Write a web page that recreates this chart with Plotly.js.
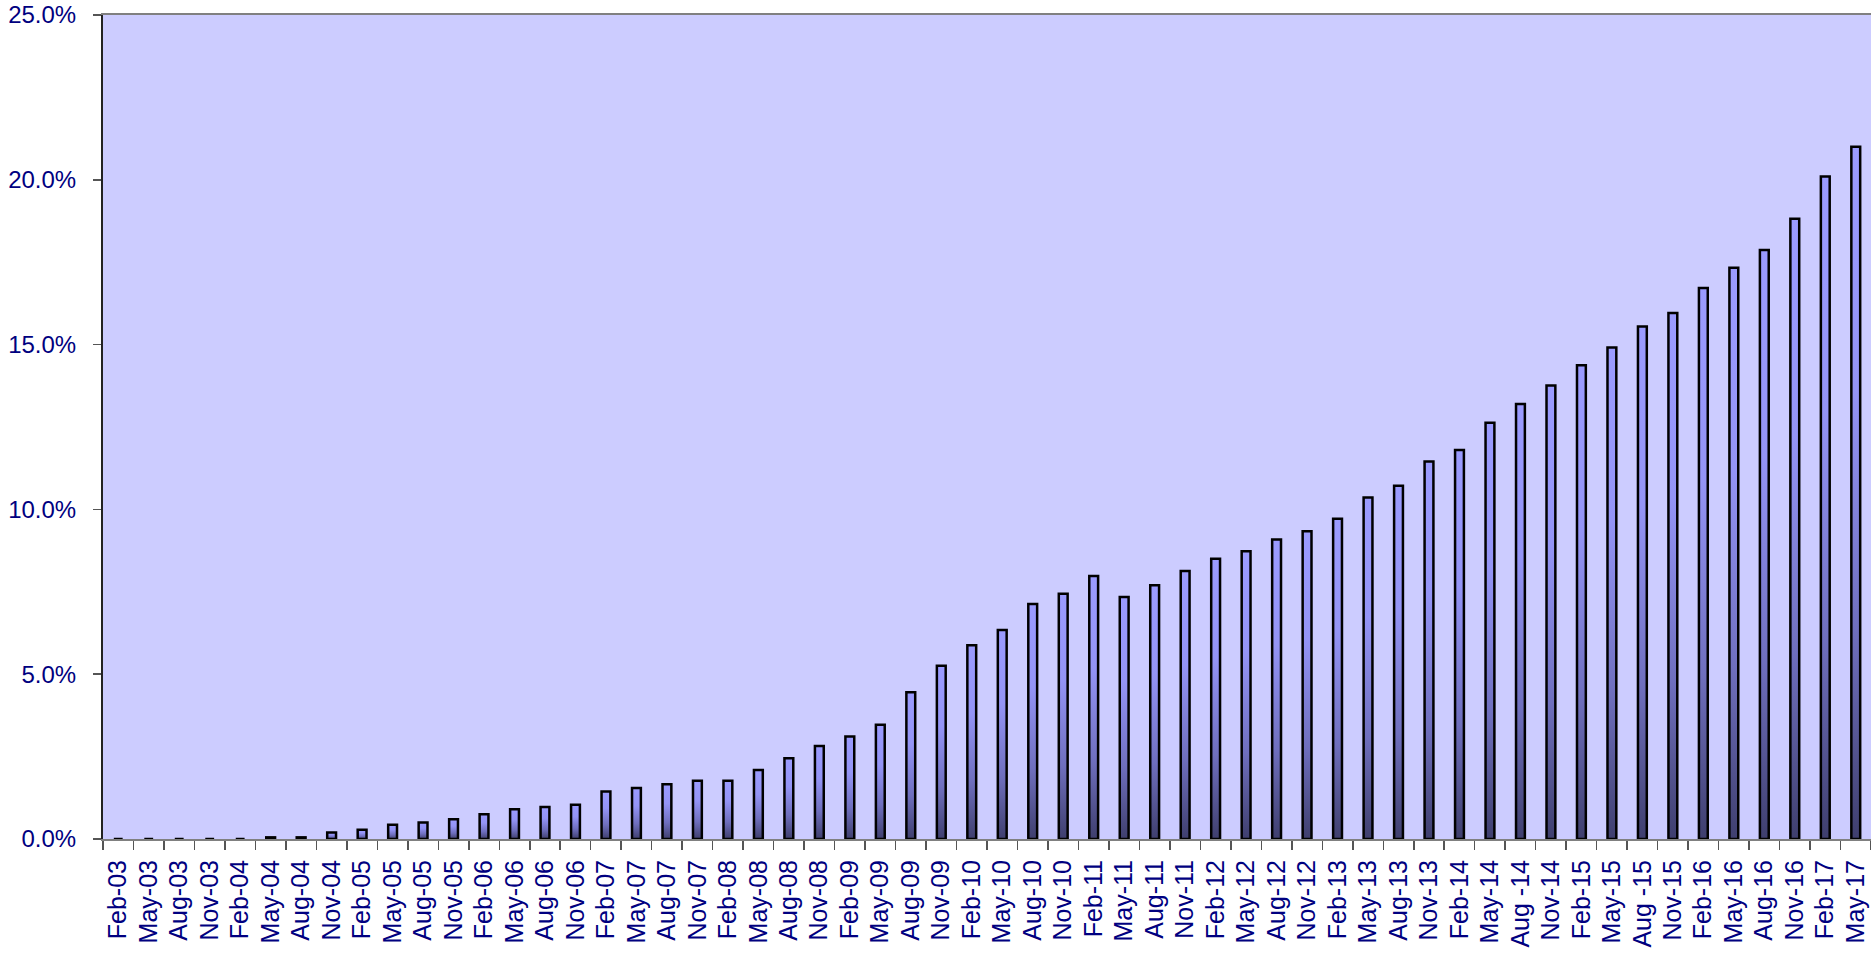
<!DOCTYPE html>
<html>
<head>
<meta charset="utf-8">
<script src="https://cdn.plot.ly/plotly-3.0.1.min.js"></script>
<style>
  html, body { margin: 0; padding: 0; background: #ffffff; }
  #chart { width: 1871px; height: 957px; }
</style>
</head>
<body>
<div id="chart"></div>
<script>
// Quarter labels (categories)
const quarters = [
  "Feb-03","May-03","Aug-03","Nov-03",
  "Feb-04","May-04","Aug-04","Nov-04",
  "Feb-05","May-05","Aug-05","Nov-05",
  "Feb-06","May-06","Aug-06","Nov-06",
  "Feb-07","May-07","Aug-07","Nov-07",
  "Feb-08","May-08","Aug-08","Nov-08",
  "Feb-09","May-09","Aug-09","Nov-09",
  "Feb-10","May-10","Aug-10","Nov-10",
  "Feb-11","May-11","Aug-11","Nov-11",
  "Feb-12","May-12","Aug-12","Nov-12",
  "Feb-13","May-13","Aug-13","Nov-13",
  "Feb-14","May-14","Aug -14","Nov-14",
  "Feb-15","May-15","Aug -15","Nov-15",
  "Feb-16","May-16","Aug-16","Nov-16",
  "Feb-17","May-17"
];

// Values in percent
const shares = [
  0, 0, 0, 0,
  0, 0.05, 0.05, 0.2,
  0.28, 0.43, 0.5, 0.6,
  0.75, 0.9, 0.97, 1.04,
  1.44, 1.55, 1.66, 1.77,
  1.77, 2.09, 2.45, 2.82,
  3.11, 3.47, 4.45, 5.26,
  5.88, 6.34, 7.13, 7.44,
  7.98, 7.34, 7.70, 8.13,
  8.50, 8.73, 9.09, 9.34,
  9.72, 10.36, 10.72, 11.45,
  11.8, 12.63, 13.2, 13.76,
  14.37, 14.91, 15.55, 15.96,
  16.72, 17.33, 17.87, 18.82,
  20.1, 21.0
];

// Y axis ticks
const yTickVals = [0, 5, 10, 15, 20, 25];
const yTickText = ["0.0%", "5.0%", "10.0%", "15.0%", "20.0%", "25.0%"];

const trace = {
  type: "bar",
  x: quarters,
  y: shares,
  marker: { color: "#9999ff", line: { color: "#000000", width: 2.5 } },
  hoverinfo: "x+y"
};

const layout = {
  width: 1871,
  height: 957,
  margin: { l: 103, r: 0, t: 15, b: 118, pad: 0 },
  paper_bgcolor: "#ffffff",
  plot_bgcolor: "#ccccff",
  bargap: 0.71,
  showlegend: false,
  xaxis: {
    type: "category",
    range: [-0.5, quarters.length - 0.5],
    tickson: "boundaries",
    ticks: "outside",
    ticklen: 9,
    tickwidth: 1.5,
    tickcolor: "#555555",
    tickangle: -90,
    tickfont: { family: "Liberation Sans, Arial, sans-serif", size: 25, color: "#000080" },
    ticklabelstandoff: 9,
    ticklabeloverflow: "allow",
    showline: true,
    linecolor: "#808080",
    linewidth: 2,
    mirror: true,
    showgrid: false,
    zeroline: false,
    automargin: false
  },
  yaxis: {
    range: [0, 25],
    tickmode: "array",
    tickvals: yTickVals,
    ticktext: yTickText,
    ticks: "outside",
    ticklen: 8,
    tickwidth: 1.5,
    tickcolor: "#555555",
    tickfont: { family: "Liberation Sans, Arial, sans-serif", size: 24, color: "#000080" },
    ticklabelstandoff: 12,
    ticklabeloverflow: "allow",
    showline: true,
    linecolor: "#222222",
    linewidth: 2,
    showgrid: false,
    zeroline: false,
    automargin: false
  }
};

function applyGradient(gd) {
  const svg = gd.querySelector("svg.main-svg");
  if (!svg) return;
  const ns = "http://www.w3.org/2000/svg";
  let defs = svg.querySelector("defs");
  if (!defs) { defs = document.createElementNS(ns, "defs"); svg.insertBefore(defs, svg.firstChild); }
  if (!svg.querySelector("#barGrad")) {
    const g = document.createElementNS(ns, "linearGradient");
    g.setAttribute("id", "barGrad");
    g.setAttribute("x1", "0"); g.setAttribute("y1", "0");
    g.setAttribute("x2", "0"); g.setAttribute("y2", "1");
    [[0, "#9b9bff"], [0.35, "#9494f6"], [0.7, "#6f6fbe"], [1, "#3f3f6e"]].forEach(([o, c]) => {
      const s = document.createElementNS(ns, "stop");
      s.setAttribute("offset", o);
      s.setAttribute("stop-color", c);
      g.appendChild(s);
    });
    defs.appendChild(g);
  }
  gd.querySelectorAll(".barlayer .point path").forEach(p => { p.style.fill = "url(#barGrad)"; });
  gd.querySelectorAll(".ytick text, .xtick text").forEach(t => { t.style.display = ""; });
}

const gd = document.getElementById("chart");
Plotly.newPlot(gd, [trace], layout, { displayModeBar: false, staticPlot: true }).then(() => applyGradient(gd));
</script>
</body>
</html>
